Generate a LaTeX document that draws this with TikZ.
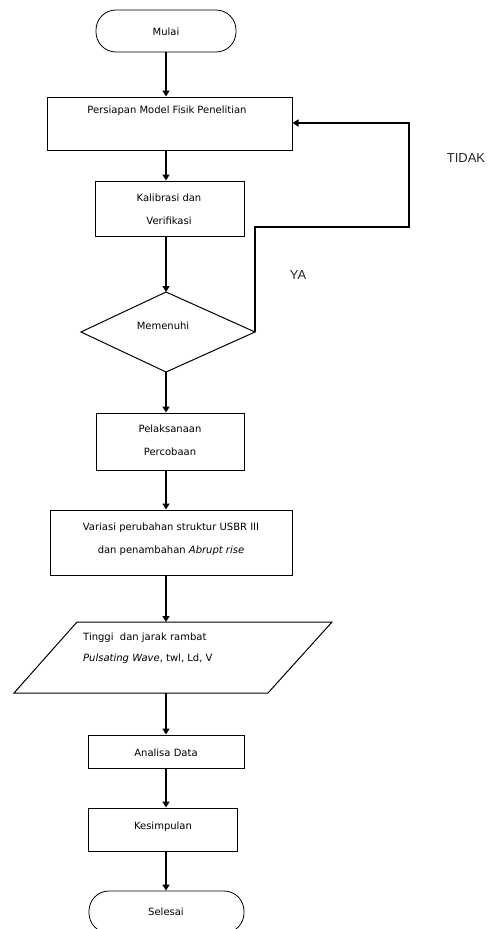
\documentclass[tikz,border=0pt]{standalone}
\usepackage{fontspec}
\setmainfont{DejaVu Sans}
\newfontfamily\labfont{Liberation Sans}
\usetikzlibrary{arrows.meta}
\tikzset{
  boxst/.style={draw, line width=1pt, rectangle, inner sep=0pt},
  termst/.style={draw, line width=0.8pt, rectangle, rounded corners=20pt, inner sep=0pt},
  txt/.style={font=\fontsize{10}{23}\selectfont, align=center, inner sep=0pt},
  labst/.style={font=\labfont\fontsize{13}{15}\selectfont, inner sep=0pt, text=black!85},
  arr/.style={line width=2pt, -{Triangle[width=7pt,length=6pt]}},
  arrk/.style={line width=2.8pt, -{Triangle[width=7pt,length=6pt]}},
}
\begin{document}
\begin{tikzpicture}[x=1pt,y=-1pt]
\useasboundingbox (0,0) rectangle (490,929);
% terminals and boxes
\node[termst, minimum width=140pt, minimum height=42pt] (mulai) at (166,31) {};
\node[txt] (tmulai) at (166,32) {Mulai};
\node[boxst, minimum width=245pt, minimum height=53pt] (persiapan) at (169.5,123.5) {};
\node[txt] (tpersiapan) at (167,111) {Persiapan Model Fisik Penelitian};
\node[boxst, minimum width=149pt, minimum height=55pt] (kalibrasi) at (169.5,208.5) {};
\node[txt] (tkalibrasi) at (169,209.5) {Kalibrasi dan\\Verifikasi};
% diamond
\coordinate (dtop) at (166,292);
\coordinate (dleft) at (81,332);
\coordinate (dright) at (255,332);
\coordinate (dbot) at (166,372);
\draw[line width=1pt] (dtop) -- (dright) -- (dbot) -- (dleft) -- cycle;
\node[txt] (tmemenuhi) at (163,326) {Memenuhi};
\node[boxst, minimum width=148pt, minimum height=57pt] (pelaksanaan) at (170,441.5) {};
\node[txt] (tpelaksanaan) at (170,440) {Pelaksanaan\\Percobaan};
\node[boxst, minimum width=242pt, minimum height=65pt] (variasi) at (171,542.5) {};
\node[txt] (tvariasi) at (171,539) {Variasi perubahan struktur USBR III\\dan penambahan \textit{Abrupt rise}};
% parallelogram
\coordinate (ptl) at (77,622);
\coordinate (ptr) at (332,622);
\coordinate (pbr) at (268,693);
\coordinate (pbl) at (14,693);
\coordinate (ptop) at (166,622);
\coordinate (pbot) at (166,693);
\draw[line width=1pt] (ptl) -- (ptr) -- (pbr) -- (pbl) -- cycle;
\node[txt, font=\fontsize{10}{21}\selectfont, align=left, anchor=west] (tpara) at (83,648.5) {Tinggi\ \ dan jarak rambat\\\textit{Pulsating Wave}, twl, Ld, V};
\node[boxst, minimum width=156pt, minimum height=33pt] (analisa) at (166,751.5) {};
\node[txt] (tanalisa) at (166,753) {Analisa Data};
\node[boxst, minimum width=149pt, minimum height=43pt] (kesimpulan) at (162.5,829.5) {};
\node[txt] (tkesimpulan) at (163,827) {Kesimpulan};
\node[termst, minimum width=155pt, minimum height=42pt] (selesai) at (166.5,912) {};
\node[txt] (tselesai) at (166,912) {Selesai};
% labels
\node[labst] (tidak) at (466,158) {TIDAK};
\node[labst] (ya) at (298,275) {YA};
% connectors
\draw[arr] (mulai.south -| dtop) -- (persiapan.north -| dtop);
\draw[arrk] (persiapan.south -| dtop) -- (kalibrasi.north -| dtop);
\draw[arrk] (kalibrasi.south -| dtop) -- (dtop);
\draw[arrk] (dbot) -- (pelaksanaan.north -| dtop);
\draw[arr] (pelaksanaan.south -| dtop) -- (variasi.north -| dtop);
\draw[arrk] (variasi.south -| dtop) -- (ptop);
\draw[arrk] (pbot) -- (analisa.north -| dtop);
\draw[arr] (analisa.south -| dtop) -- (kesimpulan.north -| dtop);
\draw[arr] (kesimpulan.south -| dtop) -- (selesai.north -| dtop);
\coordinate (f1) at (255,227);
\coordinate (f2) at (409,227);
\coordinate (f3) at (409,123);
\draw[line width=2.4pt, -{Triangle[width=7pt,length=6pt]}] (dright) -- (f1) -- (f2) -- (f3) -- (persiapan.east |- f3);
\end{tikzpicture}
\end{document}
